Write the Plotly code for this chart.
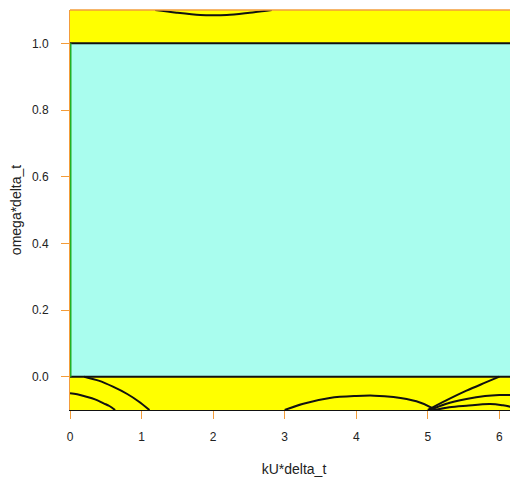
import plotly.graph_objects as go

# ---- data ----
x_span = [0.0, 6.26]
lower_level = [0.0, 0.0]
upper_level = [1.0, 1.0]
edge_x = [0.0, 0.0]
edge_y = [0.0, 1.0]

top_arc_x = [1.19, 1.49, 1.82, 2.0, 2.19, 2.51, 2.82]
top_arc_y = [1.1, 1.092, 1.085, 1.084, 1.085, 1.092, 1.1]

curve_a_x = [0.20, 0.40, 0.60, 0.80, 0.95, 1.11]
curve_a_y = [0.0, -0.012, -0.03, -0.052, -0.073, -0.1]

curve_b_x = [0.0, 0.10, 0.23, 0.35, 0.47, 0.55, 0.63]
curve_b_y = [-0.05, -0.053, -0.06, -0.068, -0.08, -0.088, -0.1]

curve_c_x = [3.0, 3.26, 3.63, 4.0, 4.25, 4.52, 4.84, 5.07, 5.1]
curve_c_y = [-0.1, -0.081, -0.064, -0.058, -0.057, -0.061, -0.074, -0.095, -0.1]

curve_d_x = [5.0, 5.25, 5.54, 5.8, 6.0]
curve_d_y = [-0.1, -0.072, -0.042, -0.018, 0.0]

curve_e_x = [5.03, 5.25, 5.54, 5.8, 6.0, 6.26]
curve_e_y = [-0.1, -0.082, -0.067, -0.058, -0.055, -0.055]

curve_f_x = [5.1, 5.3, 5.54, 5.87, 6.05, 6.26]
curve_f_y = [-0.1, -0.092, -0.087, -0.082, -0.086, -0.095]

x_ticks = [0, 1, 2, 3, 4, 5, 6]
y_ticks = [0.0, 0.2, 0.4, 0.6, 0.8, 1.0]

YELLOW = "#FFFF00"
CYAN = "#A9FDEE"
BLACK = "#111111"
ORANGE = "#F39C3A"

fig = go.Figure()
line_style = dict(color=BLACK, width=2)

fig.add_trace(go.Scatter(x=x_span, y=lower_level, mode="lines", line=line_style,
                         showlegend=False, hoverinfo="skip"))
fig.add_trace(go.Scatter(x=x_span, y=upper_level, mode="lines", line=line_style,
                         fill="tonexty", fillcolor=CYAN, showlegend=False, hoverinfo="skip"))
fig.add_trace(go.Scatter(x=edge_x, y=edge_y, mode="lines", line=dict(color="#22B022", width=3),
                         showlegend=False, hoverinfo="skip"))

for cx, cy in [(top_arc_x, top_arc_y), (curve_a_x, curve_a_y), (curve_b_x, curve_b_y),
               (curve_c_x, curve_c_y), (curve_d_x, curve_d_y), (curve_e_x, curve_e_y),
               (curve_f_x, curve_f_y)]:
    fig.add_trace(go.Scatter(x=cx, y=cy, mode="lines", line=dict(color=BLACK, width=2, shape="spline"),
                             showlegend=False, hoverinfo="skip"))

fig.update_layout(
    width=510, height=469,
    margin=dict(l=62, r=0, t=2, b=67),
    paper_bgcolor="white",
    plot_bgcolor=YELLOW,
    font=dict(family="Liberation Sans, Arial, sans-serif", size=12, color="#222222"),
    xaxis=dict(range=x_span, tickvals=x_ticks, ticks="outside", ticklen=8, tickcolor=ORANGE,
               tickwidth=1, ticklabelstandoff=8, showgrid=False, zeroline=False, showline=True,
               linecolor=BLACK, linewidth=1, automargin=False,
               title=dict(text="kU*delta_t", standoff=39)),
    yaxis=dict(range=[-0.1, 1.1], tickvals=y_ticks, tickformat=".1f", ticks="outside", ticklen=8,
               tickcolor=ORANGE, tickwidth=1, ticklabelstandoff=10, showgrid=False, zeroline=False,
               showline=True, linecolor=ORANGE, linewidth=1, automargin=False,
               title=dict(text="omega*delta_t", standoff=12)),
    shapes=[dict(type="line", xref="paper", yref="paper", x0=0, x1=1, y0=1, y1=1,
                 line=dict(color=ORANGE, width=1.5))],
)

fig.write_html("out.html")
